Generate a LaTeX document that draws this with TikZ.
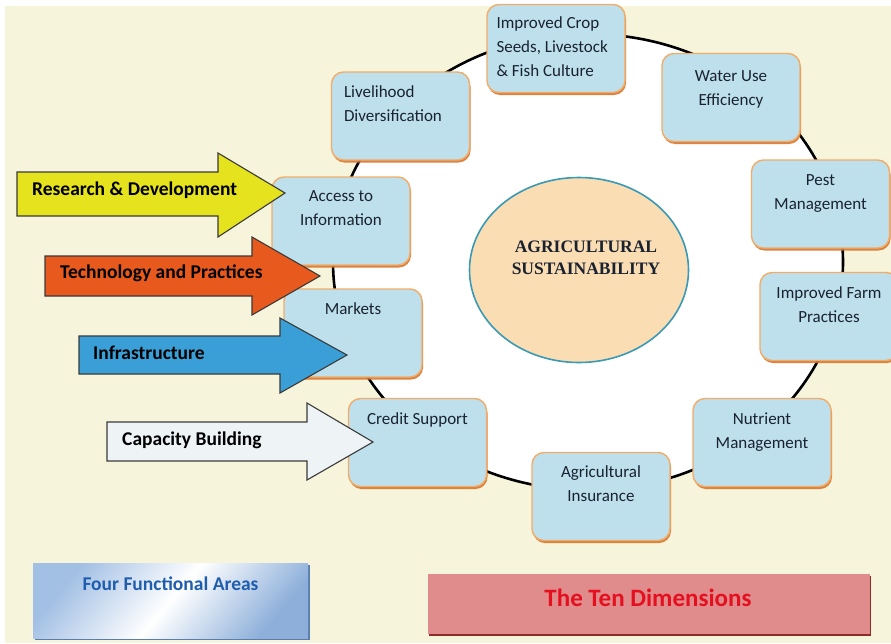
\documentclass[tikz,border=0pt]{standalone}
\usepackage{fontspec}
\setmainfont{Carlito}
\newfontfamily\hubfont{Liberation Serif}
\usetikzlibrary{positioning, shapes.geometric, shadows}

\definecolor{pagecream}{HTML}{F7F4DC}
\definecolor{boxfill}{HTML}{BDE0EC}
\definecolor{boxline}{HTML}{F2AC68}
\definecolor{boxshadow}{HTML}{D8762E}
\definecolor{hubfill}{HTML}{FBDDB4}
\definecolor{hubline}{HTML}{3A9AB5}
\definecolor{textdark}{HTML}{1A2230}
\definecolor{arrowline}{HTML}{3A3A3A}
\definecolor{rdyellow}{HTML}{E5E21E}
\definecolor{tporange}{HTML}{E8591E}
\definecolor{infblue}{HTML}{3A9FD6}
\definecolor{cbwhite}{HTML}{EEF3F6}
\definecolor{fourleft}{HTML}{A2BFE4}
\definecolor{fourright}{HTML}{8DAFDA}
\definecolor{fourshadow}{HTML}{5A7DB0}
\definecolor{fourtext}{HTML}{1F5DAE}
\definecolor{tenfill}{HTML}{E08C8C}
\definecolor{tenshadow}{HTML}{8E2A2A}
\definecolor{tentext}{HTML}{E5101F}

\begin{document}
\begin{tikzpicture}[
    x=1pt, y=-1pt,
    dimbox/.style={draw=boxline, line width=1.4pt, rounded corners=12pt, fill=boxfill,
        minimum width=138pt, minimum height=88pt,
        drop shadow={shadow xshift=1pt, shadow yshift=-2.5pt, fill=boxshadow, opacity=0.9}},
    dimtext/.style={font=\fontsize{17}{24}\selectfont, text=textdark, align=center, inner sep=0pt},
    areaarrow/.style={draw=arrowline, line width=1.1pt, line join=miter},
    arealabel/.style={font=\fontsize{19.5}{22}\selectfont\bfseries, text=black, anchor=west, inner sep=0pt}
]
\useasboundingbox (0,0) rectangle (891,643);

% -------------------------
% Page Background
% -------------------------
\fill[pagecream] (5,6) rectangle (891,643);

% -------------------------
% Ring and Centre
% -------------------------
\node[draw, ellipse, line width=2.6pt, fill=white, minimum width=510pt, minimum height=456pt] (ring) at (588,262) {};
\node[draw=hubline, ellipse, line width=1.6pt, fill=hubfill, minimum width=219pt, minimum height=185pt] (hub) at (579,270) {};
\node[font=\hubfont\bfseries\fontsize{17.5}{22}\selectfont, align=center, text=textdark] (hubtext) at (586,258) {AGRICULTURAL\\SUSTAINABILITY};

% -------------------------
% The Ten Dimensions (round the ring)
% -------------------------
\node[dimbox] (crop) at (556,48.5) {};
\node[dimtext, align=left, anchor=north west] (crop-t) at ([xshift=10pt, yshift=-13pt]crop.north west) {Improved Crop\\Seeds, Livestock\\\& Fish Culture};

\node[dimbox] (water) at (731,97.5) {};
\node[dimtext, below=18pt of water.north] (water-t) {Water Use\\Efficiency};

\node[dimbox] (pest) at (820.5,204) {};
\node[dimtext, below=15pt of pest.north] (pest-t) {Pest\\Management};

\node[dimbox] (farm) at (829,316.5) {};
\node[dimtext, below=15pt of farm.north] (farm-t) {Improved Farm\\Practices};

\node[dimbox] (nutrient) at (762,442.5) {};
\node[dimtext, below=15pt of nutrient.north] (nutrient-t) {Nutrient\\Management};

\node[dimbox] (insurance) at (601,496.5) {};
\node[dimtext, below=14pt of insurance.north] (insurance-t) {Agricultural\\Insurance};

\node[dimbox] (credit) at (417.5,442.5) {};
\node[dimtext, below=15pt of credit.north] (credit-t) {Credit Support};

\node[dimbox] (markets) at (353,333) {};
\node[dimtext, below=14pt of markets.north] (markets-t) {Markets};

\node[dimbox] (access) at (341,221) {};
\node[dimtext, below=14pt of access.north] (access-t) {Access to\\Information};

\node[dimbox] (livelihood) at (400.5,116) {};
\node[dimtext, align=left, anchor=north west] (livelihood-t) at ([xshift=13pt, yshift=-14pt]livelihood.north west) {Livelihood\\Diversification};

% -------------------------
% Four Functional Areas (arrows)
% -------------------------
\draw[areaarrow, fill=rdyellow] (17,172) -- (218,172) -- (218,153) -- (285,193) -- (218,237) -- (218,216) -- (17,216) -- cycle;
\node[arealabel] (RD) at (32,190) {Research \& Development};

\draw[areaarrow, fill=tporange] (45,256) -- (252,256) -- (252,237) -- (320,276) -- (252,315) -- (252,296) -- (45,296) -- cycle;
\node[arealabel] (TP) at (60,273) {Technology and Practices};

\draw[areaarrow, fill=infblue] (79,336) -- (280,336) -- (280,318) -- (347,355) -- (280,393) -- (280,374) -- (79,374) -- cycle;
\node[arealabel] (INF) at (93,353) {Infrastructure};

\draw[areaarrow, fill=cbwhite] (107,422) -- (307,422) -- (307,403) -- (373,442) -- (307,480) -- (307,461) -- (107,461) -- cycle;
\node[arealabel] (CB) at (122,440) {Capacity Building};

% -------------------------
% Legend Boxes
% -------------------------
\node[minimum width=275pt, minimum height=75pt, inner sep=0pt,
      left color=fourleft, right color=fourright, middle color=white, shading angle=50,
      drop shadow={shadow xshift=1.5pt, shadow yshift=-2pt, fill=fourshadow, opacity=1}] (four) at (170.5,600.5) {};
\node[font=\fontsize{19.5}{22}\selectfont\bfseries, text=fourtext, below=10pt of four.north] (four-t) {Four Functional Areas};

\node[fill=tenfill, minimum width=442pt, minimum height=60pt, inner sep=0pt,
      drop shadow={shadow xshift=1pt, shadow yshift=-2.5pt, fill=tenshadow, opacity=1}] (ten) at (649,603.5) {};
\node[font=\fontsize{25}{28}\selectfont\bfseries, text=tentext] (ten-t) at (648,598) {The Ten Dimensions};

\end{tikzpicture}
\end{document}
